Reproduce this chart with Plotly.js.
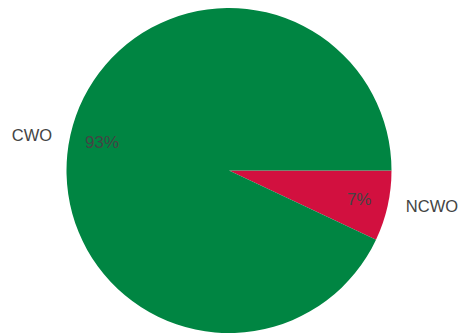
<!DOCTYPE html>
<html>
<head>
<meta charset="utf-8">
<script src="https://cdn.plot.ly/plotly-3.0.1.min.js"></script>
<style>html,body{margin:0;padding:0;background:#fff;}#chart{width:460px;height:335px;}</style>
</head>
<body>
<div id="chart"></div>
<script>
var categories = ["NCWO", "CWO"];
var values = [7, 93];
var colors = ["#d2103f", "#008542"];
var labelText = ["\u00a0\u00a0\u00a0NCWO", "CWO\u00a0\u00a0\u00a0"];

var dom = {x: [0, 1], y: [0, 1]};
var common = {
  type: "pie", labels: categories, values: values, sort: false,
  direction: "clockwise", rotation: 90, domain: dom,
  hoverinfo: "skip", showlegend: false
};
var base = Object.assign({}, common, {
  marker: {colors: colors, line: {width: 0}},
  textinfo: "none"
});
var pct = Object.assign({}, common, {
  hole: 0.6,
  marker: {colors: ["rgba(0,0,0,0)", "rgba(0,0,0,0)"], line: {width: 0}},
  texttemplate: "%{percent:.0%}", textposition: "inside",
  insidetextorientation: "horizontal",
  textfont: {family: "Liberation Sans, Arial, sans-serif", size: 17, color: "#444"}
});
var lab = Object.assign({}, common, {
  marker: {colors: ["rgba(0,0,0,0)", "rgba(0,0,0,0)"], line: {width: 0}},
  text: labelText,
  texttemplate: "%{text}", textposition: "outside",
  outsidetextfont: {family: "Liberation Sans, Arial, sans-serif", size: 16.5, color: "#444"}
});
Plotly.newPlot("chart", [base, pct, lab], {
  width: 460, height: 335,
  margin: {l: 0, r: 2, t: 8, b: 2},
  paper_bgcolor: "#fff", plot_bgcolor: "#fff"
}, {displayModeBar: false, staticPlot: true});
</script>
</body>
</html>
